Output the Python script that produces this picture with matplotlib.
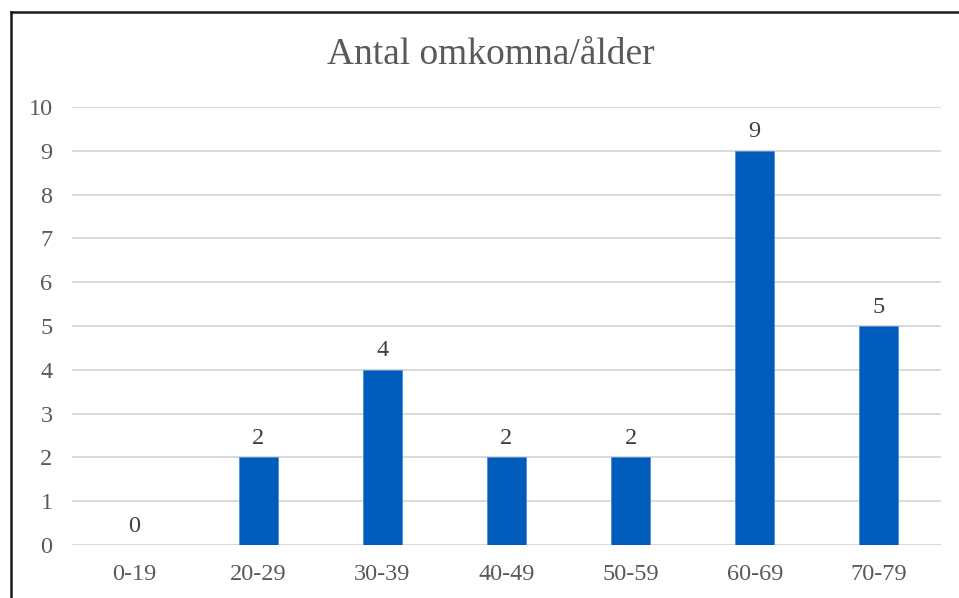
import matplotlib
matplotlib.use("Agg")
import matplotlib.pyplot as plt
from matplotlib.lines import Line2D

# data
aldrar = ["0-19", "20-29", "30-39", "40-49", "50-59", "60-69", "70-79"]
omkomna = [0, 2, 4, 2, 2, 9, 5]
y_ticks = list(range(0, 11))

plt.rcParams['font.family'] = ['Liberation Serif', 'DejaVu Serif']

fig = plt.figure(figsize=(9.59, 5.98), dpi=100)
ax = fig.add_axes([0.0751, 0.0886, 0.9061, 0.7325])

x = list(range(len(aldrar)))
bars = ax.bar(x, omkomna, width=0.315, color="#005BBB", edgecolor="#4A8FD8",
              linewidth=0.6, zorder=3)

# värden ovanför staplarna
for xi, v in zip(x, omkomna):
    ax.annotate(str(v), (xi, v), xytext=(0, 6), textcoords="offset points",
                ha="center", va="bottom", fontsize=17.5, color="#404040")

ax.set_xlim(-0.5, len(aldrar) - 0.5)
ax.set_ylim(0, 10)
ax.set_yticks(y_ticks)
ax.set_xticks(x)
ax.set_xticklabels(aldrar)
ax.tick_params(axis="both", length=0, labelsize=17.5, labelcolor="#595959")
ax.tick_params(axis="y", pad=14)
ax.tick_params(axis="x", pad=14)
ax.grid(axis="y", color="#D9D9D9", linewidth=1.4, zorder=0)
for s in ax.spines.values():
    s.set_visible(False)

fig.text(491 / 959, 0.908, "Antal omkomna/ålder", ha="center", va="center",
         fontsize=27, color="#595959")

# ram (bara övre och vänstra kanten syns)
fig.add_artist(Line2D([10.5 / 959, 10.5 / 959], [0, 1 - 12 / 598],
                      transform=fig.transFigure, color="#1a1a1a", linewidth=1.8))
fig.add_artist(Line2D([10.5 / 959, 1], [1 - 12 / 598, 1 - 12 / 598],
                      transform=fig.transFigure, color="#1a1a1a", linewidth=1.8))

fig.savefig("out.png", dpi=100)
